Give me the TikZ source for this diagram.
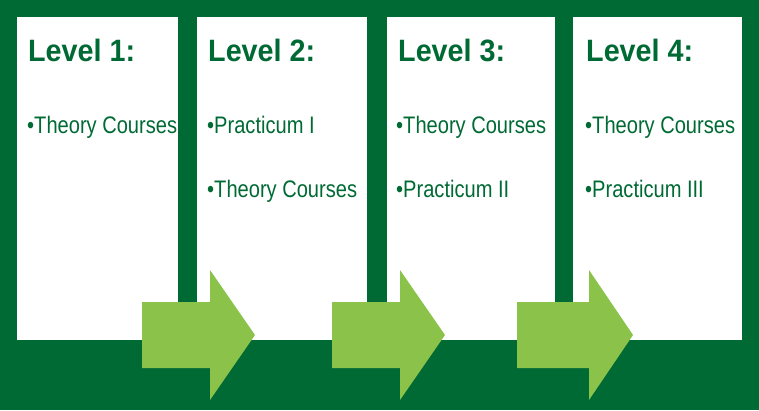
\documentclass[tikz,border=0pt]{standalone}
\usepackage{fontspec}
\setmainfont{Liberation Sans}
\newfontfamily\narrowfont[FakeStretch=0.84]{Liberation Sans}
\newfontfamily\titlefont[FakeStretch=0.93]{Liberation Sans}
\usetikzlibrary{positioning}
\definecolor{darkgreen}{RGB}{0,106,52}
\definecolor{lightgreen}{RGB}{139,195,74}

\begin{document}
\begin{tikzpicture}[%
  x=1bp, y=-1bp,
  levelbox/.style={fill=white, draw=none, inner sep=0pt},
  leveltitle/.style={anchor=base west, inner sep=0pt, text=darkgreen,
    font=\titlefont\bfseries\fontsize{31}{36}\selectfont},
  levelitem/.style={anchor=base west, inner sep=0pt, text=darkgreen,
    font=\narrowfont\fontsize{24}{28}\selectfont},
  steparrow/.style={fill=lightgreen, draw=none},
]

  % background
  \fill[darkgreen] (0,0) rectangle (759,410);
  \useasboundingbox (0,0) rectangle (759,410);

  % level boxes
  \node[levelbox, minimum width=161bp, minimum height=323bp] (box1) at (97.5,178.5) {};
  \node[levelbox, minimum width=170bp, minimum height=323bp] (box2) at (282,178.5) {};
  \node[levelbox, minimum width=168bp, minimum height=323bp] (box3) at (471,178.5) {};
  \node[levelbox, minimum width=169bp, minimum height=323bp] (box4) at (657.5,178.5) {};

  % titles
  \node[leveltitle] (title1) at (28,61) {Level 1:};
  \node[leveltitle] (title2) at (208,61) {Level 2:};
  \node[leveltitle] (title3) at (398,61) {Level 3:};
  \node[leveltitle] (title4) at (586,61) {Level 4:};

  % courses
  \node[levelitem] (item11) at (27,133) {\textbullet Theory Courses};
  \node[levelitem] (item21) at (207,133) {\textbullet Practicum I};
  \node[levelitem] (item22) at (207,197) {\textbullet Theory Courses};
  \node[levelitem] (item31) at (396,133) {\textbullet Theory Courses};
  \node[levelitem] (item32) at (396,197) {\textbullet Practicum II};
  \node[levelitem] (item41) at (585,133) {\textbullet Theory Courses};
  \node[levelitem] (item42) at (585,197) {\textbullet Practicum III};

  % arrows between levels
  \foreach \l/\n/\t in {142/210/255, 332/400/445, 517/589/633}
    \fill[steparrow] (\l,302) -- (\n,302) -- (\n,270) -- (\t,335)
      -- (\n,400) -- (\n,368) -- (\l,368) -- cycle;

\end{tikzpicture}
\end{document}
